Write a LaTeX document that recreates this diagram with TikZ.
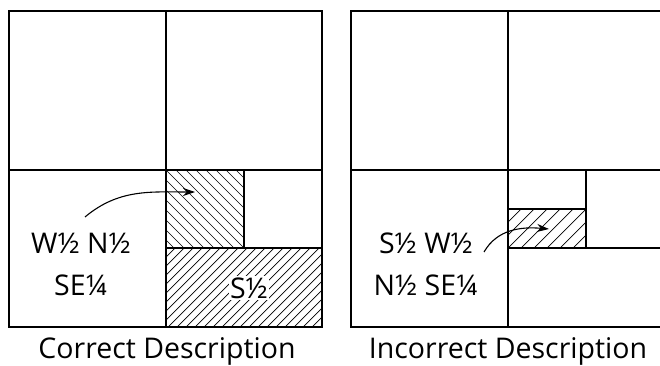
\documentclass[tikz,border=0pt]{standalone}
\usepackage{fontspec}
\setmainfont{Open Sans}
\usetikzlibrary{arrows.meta}
\tikzset{
  frame/.style={line width=1.4pt, line cap=rect},
  hatchline/.style={line width=0.7pt},
  lbl/.style={inner sep=0pt, align=center, anchor=base, font=\fontsize{28.5}{42}\selectfont},
  captext/.style={inner sep=0pt, anchor=base, font=\fontsize{28.5}{32}\selectfont},
  callout/.style={line width=1.1pt, -{Stealth[length=12pt,width=8pt]}},
}
\begin{document}
\begin{tikzpicture}[x=1pt,y=-1pt]
\useasboundingbox (0,0) rectangle (660,366);
% ---------- left: correct description ----------
% hatching upper cell (north west lines)
\begin{scope}
  \clip (166,170) rectangle (244,248);
  \foreach \i in {-80,-70,...,80} \draw[hatchline] (166+\i,170) -- ++(90,90);
\end{scope}
% hatching S 1/2 (north east lines)
\begin{scope}
  \clip (166,248) rectangle (322,327);
  \foreach \i in {0,9,...,250} \draw[hatchline] (166+\i,248) -- ++(-90,90);
\end{scope}
\draw[frame] (9,11) rectangle (322,327);
\draw[frame] (166,11) -- (166,327);
\draw[frame] (9,170) -- (322,170);
\draw[frame] (244,170) -- (244,248);
\draw[frame] (166,248) -- (322,248);
\node[lbl, fill=white, inner sep=1.5pt] (shalf) at (249,298) {S½};
\node[lbl] (lleft) at (81,295) {W½ N½\\SE¼};
\coordinate (la) at (85,217);
\coordinate (lb) at (195,192);
\draw[callout] (la) to[out=40,in=180] (lb);
\node[captext] (capl) at (167,358) {Correct Description};
% ---------- right: incorrect description ----------
\begin{scope}
  \clip (508,209) rectangle (586,248);
  \foreach \i in {0,13,...,130} \draw[hatchline] (508+\i,209) -- ++(-45,45);
\end{scope}
\draw[frame] (660,11) -- (351,11) -- (351,327) -- (660,327);
\draw[frame] (508,11) -- (508,327);
\draw[frame] (351,170) -- (660,170);
\draw[frame] (586,170) -- (586,248);
\draw[frame] (508,248) -- (660,248);
\draw[frame] (508,209) -- (586,209);
\node[lbl] (lright) at (426,295) {S½ W½\\N½ SE¼};
\coordinate (ra) at (484,252);
\coordinate (rb) at (549,229);
\draw[callout] (ra) to[out=60,in=175] (rb);
\node[captext] (capr) at (508,358) {Incorrect Description};
\end{tikzpicture}
\end{document}
